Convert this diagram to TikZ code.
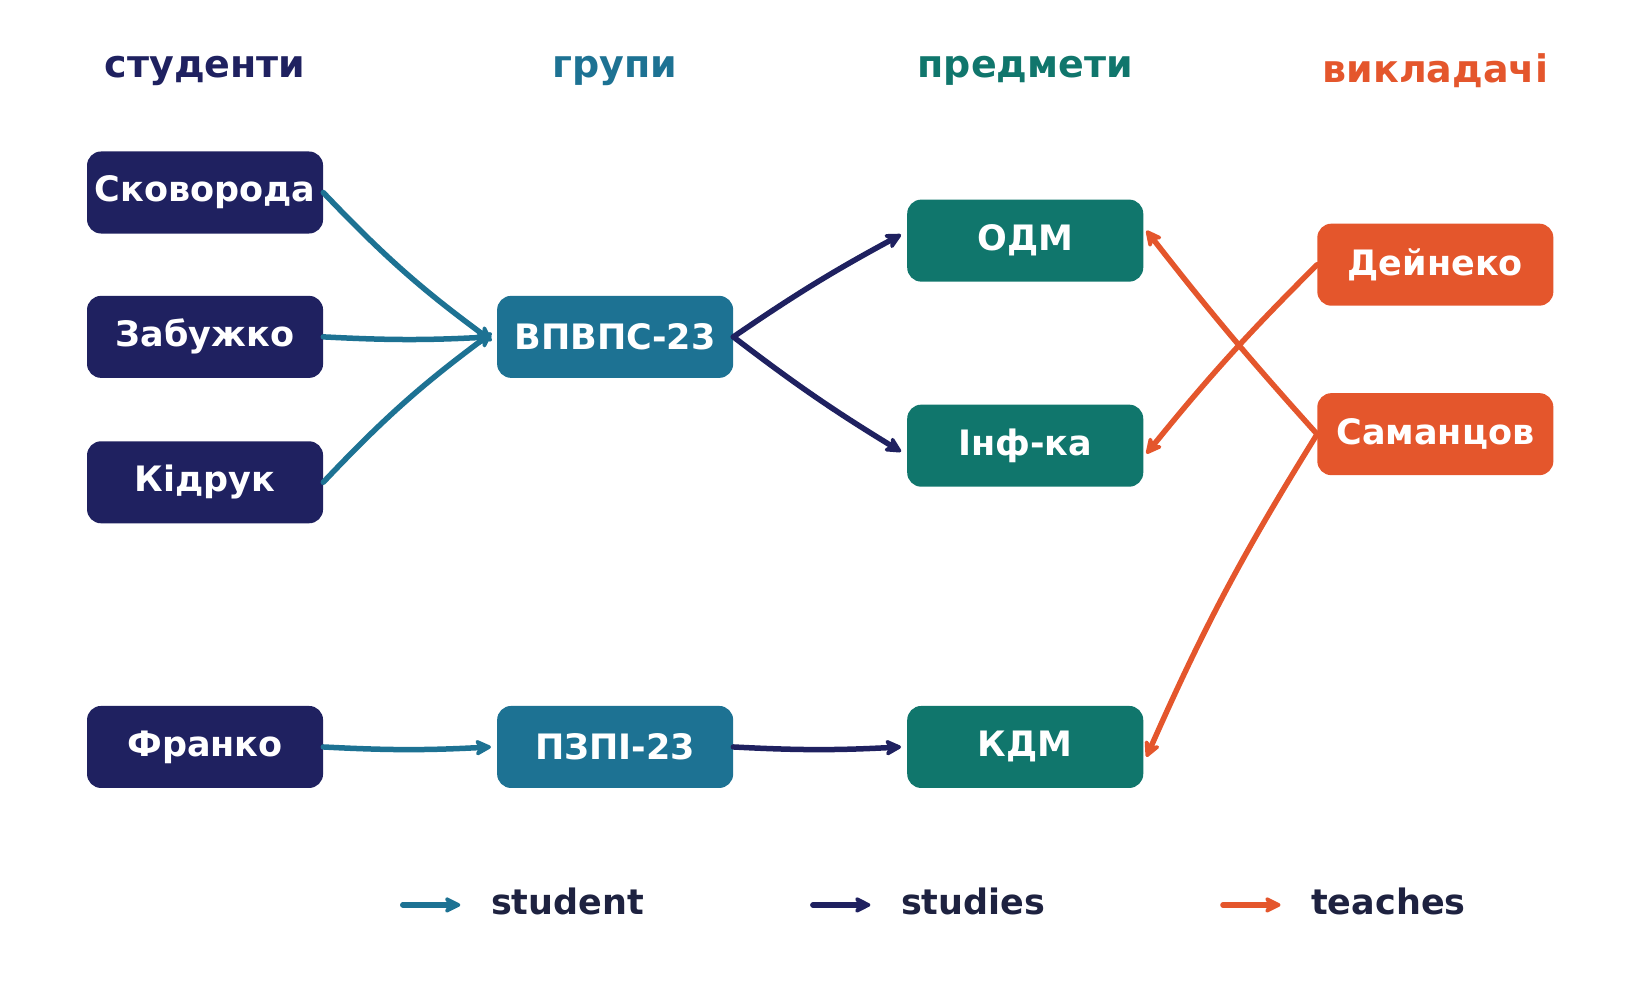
\documentclass[tikz,border=0pt]{standalone}
\usepackage{fontspec}
\setmainfont{DejaVu Sans}
\usetikzlibrary{arrows.meta}
\definecolor{navy}{HTML}{1F2160}
\definecolor{tblue}{HTML}{1D7293}
\definecolor{tgreen}{HTML}{10766C}
\definecolor{orng}{HTML}{E4562C}
\definecolor{txt}{HTML}{1E2240}
\begin{document}
\begin{tikzpicture}[x=1.046pt,y=-1.046pt,
 box/.style={rounded corners=14pt,minimum width=236pt,minimum height=82pt,text=white,font=\bfseries\fontsize{35}{40}\selectfont,inner sep=0pt},
 hdr/.style={font=\bfseries\fontsize{38}{42}\selectfont},
 edge/.style={line width=5.5pt,line cap=round,-{Stealth[length=20pt,width=20pt,inset=6pt,round]}},
 leg/.style={font=\bfseries\fontsize{35}{40}\selectfont,text=txt,anchor=west}]
\useasboundingbox (0,0) rectangle (1560,952);
\node[hdr,text=navy] (h1) at (196,68) {студенти};
\node[hdr,text=tblue] (h2) at (588,68) {групи};
\node[hdr,text=tgreen] (h3) at (980,68) {предмети};
\node[hdr,text=orng] (h4) at (1372,68) {викладачі};
\node[box,fill=navy] (s1) at (196,184) {Сковорода};
\node[box,fill=navy] (s2) at (196,322) {Забужко};
\node[box,fill=navy] (s3) at (196,461) {Кідрук};
\node[box,fill=navy] (s4) at (196,714) {Франко};
\node[box,fill=tblue] (g1) at (588,322) {ВПВПС-23};
\node[box,fill=tblue] (g2) at (588,714) {ПЗПІ-23};
\node[box,fill=tgreen] (p1) at (980,230) {ОДМ};
\node[box,fill=tgreen] (p2) at (980,426) {Інф-ка};
\node[box,fill=tgreen] (p3) at (980,714) {КДМ};
\node[box,fill=orng] (t1) at (1372,253) {Дейнеко};
\node[box,fill=orng] (t2) at (1372,415) {Саманцов};
\coordinate (g1in) at (470,322);
\draw[edge,tblue] (s1.east) to[bend right=5] ([yshift=-4pt]g1in);
\draw[edge,tblue] (s2.east) to[bend right=3] (g1in);
\draw[edge,tblue] (s3.east) to[bend left=5] ([yshift=4pt]g1in);
\draw[edge,tblue] (s4.east) to[bend right=3] ([xshift=-6pt]g2.west);
\draw[edge,navy] (g1.east) to[bend left=3] ([xshift=-6pt,yshift=6pt]p1.west);
\draw[edge,navy] (g1.east) to[bend right=3] ([xshift=-6pt,yshift=-6pt]p2.west);
\draw[edge,navy] (g2.east) to[bend right=3] ([xshift=-6pt]p3.west);
\draw[edge,orng] (t1.west) to[bend right=3] ([xshift=3pt,yshift=-8pt]p2.east);
\draw[edge,orng] (t2.west) to[bend left=2] ([xshift=3pt,yshift=10pt]p1.east);
\draw[edge,orng] (t2.west) to[bend right=4] ([xshift=3pt,yshift=-10pt]p3.east);
\coordinate (la1) at (385,865); \coordinate (lb1) at (440,865);
\coordinate (la2) at (777,865); \coordinate (lb2) at (832,865);
\coordinate (la3) at (1169,865); \coordinate (lb3) at (1224,865);
\draw[edge,tblue] (la1) -- (lb1);
\draw[edge,navy] (la2) -- (lb2);
\draw[edge,orng] (la3) -- (lb3);
\node[leg] (l1) at (466,862) {student};
\node[leg] (l2) at (858,862) {studies};
\node[leg] (l3) at (1250,862) {teaches};
\end{tikzpicture}
\end{document}
